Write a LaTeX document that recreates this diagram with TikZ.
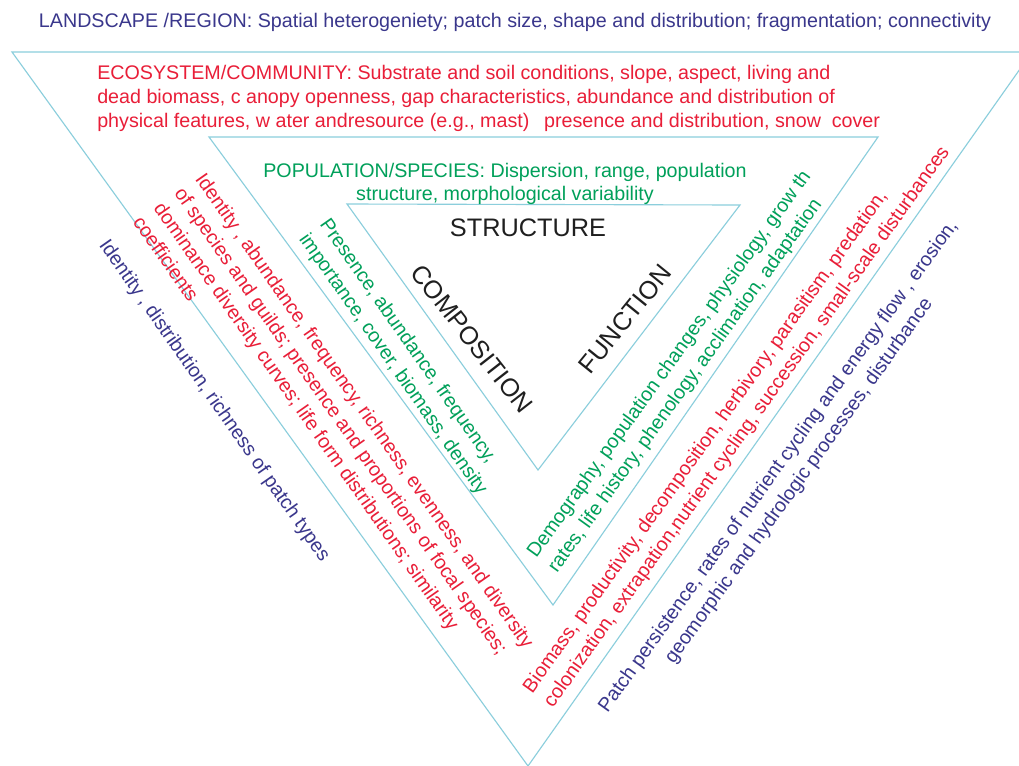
\documentclass[tikz,border=0pt]{standalone}
\usepackage{fontspec}
\setmainfont{Liberation Sans}
\definecolor{lineblue}{HTML}{8BCEDC}
\definecolor{tblue}{HTML}{3A378C}
\definecolor{tred}{HTML}{E91E38}
\definecolor{tgreen}{HTML}{00A05A}
\tikzset{
  edge/.style={draw=lineblue, line width=0.8pt, line join=miter},
  txt/.style={inner sep=0pt, font=\fontsize{14}{16.8}\selectfont},
  rtxt/.style={inner sep=0pt, font=\fontsize{14}{18}\selectfont},
  tb/.style={txt, text=tblue},
  tr/.style={txt, text=tred},
  tg/.style={txt, text=tgreen},
  rb/.style={rtxt, text=tblue},
  rr/.style={rtxt, text=tred},
  rg/.style={rtxt, text=tgreen},
  big/.style={inner sep=0pt, font=\fontsize{18}{20}\selectfont, text=black!88},
}
\begin{document}
\begin{tikzpicture}[x=0.025cm, y=-0.025cm]
\useasboundingbox (0,0) rectangle (1019,765);
\fill[white] (0,0) rectangle (1019,765);
% triangle vertices
\coordinate (O1) at (12,52);
\coordinate (O2) at (1032,52);
\coordinate (O3) at (528,766);
\coordinate (E1) at (209,137);
\coordinate (E2) at (878,137);
\coordinate (E3) at (553,605);
\coordinate (P1) at (347,204);
\coordinate (P2) at (740,205);
\coordinate (P3) at (538,470);
\begin{scope}
  \clip (0,0) rectangle (1019,765);
  \draw[edge] (O1) -- (O2) -- (O3) -- cycle;
  \draw[edge] (E1) -- (E2) -- (E3) -- cycle;
  \draw[edge] (P1) -- (P2) -- (P3) -- cycle;
\end{scope}
% horizontal texts
\node[tb] (land) at (515,22) {LANDSCAPE /REGION: Spatial heterogeniety; patch size, shape and distribution; fragmentation; connectivity};
\node[tr, align=left, anchor=west] (eco) at (97,98.5) {ECOSYSTEM/COMMUNITY: Substrate and soil conditions, slope, aspect, living and\\dead biomass, c anopy openness, gap characteristics, abundance and distribution of\\physical features, w ater andresource (e.g., mast)\hspace{0.75em}presence and distribution, snow\hspace{0.55em}cover};
\node[tg, align=center] (pop) at (505,184) {POPULATION/SPECIES: Dispersion, range, population\\structure, morphological variability};
\node[big] (struct) at (528,228) {STRUCTURE};
\node[big, rotate=-52] (comp) at (472,339) {COMPOSITION};
\node[big, rotate=51] (func) at (625,319) {FUNCTION};
% left side
\node[rb, rotate=-55] (lpatch) at (214,401) {Identity , distribution, richness of patch types};
\node[rr, rotate=-55, align=left] (lcomm) at (334,432) {Identity , abundance, frequency, richness, evenness, and diversity\\of species and guilds; presence and proportions of focal species;\\dominance diversity curves; life form distributions; similarity\\coefficients};
\node[rg, rotate=-55, align=left] (lpop) at (403,357) {Presence, abundance, frequency,\\importance, cover, biomass, density};
% right side
\node[rg, rotate=54.3, align=left] (rpop) at (680,372) {Demography, population changes, physiology, grow th\\rates, life history, phenology, acclimation, adaptation};
\node[rr, rotate=54.5, align=left] (rcomm) at (737,420) {Biomass, productivity, decomposition, herbivory, parasitism, predation,\\colonization, extrapation,nutrient cycling, succession, small-scale disturbances};
\node[rb, rotate=54.3, align=center] (rpatch) at (789,474) {Patch persistence, rates of nutrient cycling and energy flow , erosion,\\geomorphic and hydrologic processes, disturbance};
\end{tikzpicture}
\end{document}
